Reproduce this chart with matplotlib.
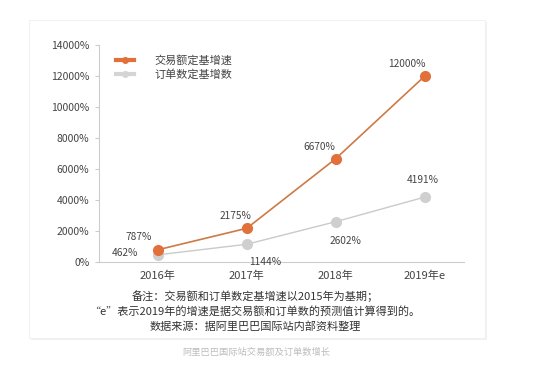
import matplotlib
matplotlib.use('Agg')
import matplotlib.pyplot as plt
from matplotlib.lines import Line2D
from matplotlib.patches import FancyBboxPatch

plt.rcParams['font.family'] = ['Noto Sans CJK SC', 'DejaVu Sans']

# data
years = ['2016年', '2017年', '2018年', '2019年e']
gmv_growth = [787, 2175, 6670, 12000]      # 交易额定基增速 (%)
order_growth = [462, 1144, 2602, 4191]     # 订单数定基增数 (%)
series_names = ['交易额定基增速', '订单数定基增数']
y_ticks = [0, 2000, 4000, 6000, 8000, 10000, 12000, 14000]

# label offsets in pixels (dx, dy)
gmv_offsets = [(-19, 13), (-11, 12), (-16, 12), (-18, 12)]
order_offsets = [(-33, 2), (18, -18), (10, -19), (-2, 17)]

notes = ['备注：交易额和订单数定基增速以2015年为基期；',
         '“e”表示2019年的增速是据交易额和订单数的预测值计算得到的。',
         '数据来源：据阿里巴巴国际站内部资料整理']
caption = '阿里巴巴国际站交易额及订单数增长'

orange = '#E2703A'
orange_line = '#CD7A45'
grey = '#CFCFCF'
grey_line = '#CACACA'
text_c = '#444444'

fig = plt.figure(figsize=(5.54, 3.75), dpi=100)
fig.patch.set_facecolor('white')

# card with faint shadow
shadow = FancyBboxPatch((31 / 554, 1 - 340 / 375), 456 / 554, 318 / 375,
                        boxstyle='square,pad=0', transform=fig.transFigure,
                        facecolor='#F0F0F0', edgecolor='none', zorder=-2)
card = FancyBboxPatch((29 / 554, 1 - 338 / 375), 456 / 554, 318 / 375,
                      boxstyle='square,pad=0', transform=fig.transFigure,
                      facecolor='white', edgecolor='#F2F2F2', linewidth=0.8, zorder=-1)
fig.patches.extend([shadow, card])

ax = fig.add_axes([99 / 554, 1 - 262 / 375, 365 / 554, 217 / 375])
ax.set_zorder(2)
ax.set_facecolor('none')
x = list(range(len(years)))

ax.plot(x, order_growth, color=grey_line, lw=1.0, marker='o', ms=7,
        mfc=grey, mec=grey, zorder=3)
ax.plot(x, gmv_growth, color=orange_line, lw=1.2, marker='o', ms=7,
        mfc=orange, mec=orange, zorder=4)

for xi, v, off in zip(x, gmv_growth, gmv_offsets):
    ax.annotate(f'{v}%', (xi, v), xytext=off, textcoords='offset pixels',
                ha='center', va='center', fontsize=7.3, color=text_c)
for xi, v, off in zip(x, order_growth, order_offsets):
    ax.annotate(f'{v}%', (xi, v), xytext=off, textcoords='offset pixels',
                ha='center', va='center', fontsize=7.3, color=text_c)

ax.set_xlim(-0.66, 3.44)
ax.set_ylim(0, 14000)
ax.set_yticks(y_ticks)
ax.set_yticklabels([f'{t}%' for t in y_ticks])
ax.set_xticks(x)
ax.set_xticklabels(years)
for s in ['top', 'right']:
    ax.spines[s].set_visible(False)
for s in ['left', 'bottom']:
    ax.spines[s].set_color('#CCCCCC')
    ax.spines[s].set_linewidth(0.8)
ax.tick_params(axis='y', length=3, color='#CCCCCC', labelsize=7.5, labelcolor=text_c, pad=4)
ax.tick_params(axis='x', length=0, labelsize=8, labelcolor=text_c, pad=6)

handles = [Line2D([0], [0], color=orange, lw=3, marker='o', ms=4, mfc=orange, mec=orange),
           Line2D([0], [0], color='#D5D5D5', lw=3, marker='o', ms=4, mfc='#D5D5D5', mec='#D5D5D5')]
ax.legend(handles, series_names, loc='upper left', bbox_to_anchor=(0.025, 0.99),
          frameon=False, fontsize=8, handlelength=1.6, handletextpad=1.9,
          labelspacing=0.3, labelcolor=text_c, borderaxespad=0.3)

for i, line in enumerate(notes):
    fig.text(255 / 554, 1 - (296 + i * 15.5) / 375, line, ha='center', va='center',
             fontsize=8, color='#333333')
fig.text(256 / 554, 1 - 352 / 375, caption, ha='center', va='center',
         fontsize=6.7, color='#BDBDBD')

fig.savefig('out.png', dpi=100, facecolor='white')
